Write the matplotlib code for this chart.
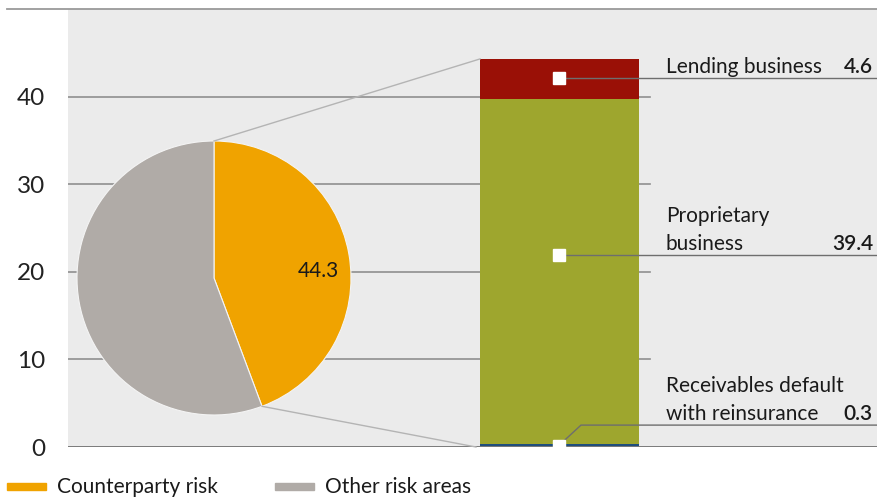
import matplotlib
matplotlib.use("Agg")
import matplotlib.pyplot as plt
from matplotlib.lines import Line2D
from matplotlib.patches import Rectangle
import numpy as np

# ---- data ----
pie_labels = ["Counterparty risk", "Other risk areas"]
pie_values = [44.3, 55.7]
pie_colors = ["#f0a300", "#b0aba7"]

bar_labels = ["Receivables default\nwith reinsurance", "Proprietary\nbusiness", "Lending business"]
bar_values = [0.3, 39.4, 4.6]
bar_value_text = ["0.3", "39.4", "4.6"]
bar_colors = ["#1f4e7c", "#9ea62e", "#9a1006"]

y_ticks = [0, 10, 20, 30, 40]
y_ticklabels = ["0", "10", "20", "30", "40"]

plt.rcParams['font.family'] = ['Lato', 'DejaVu Sans']

W, H = 878, 497
fig = plt.figure(figsize=(W / 100, H / 100), dpi=100)

def fx(px):
    return px / W

def fy(py):
    return 1 - py / H

# main axes: pixel x 68..878, y 9..447
ax_l, ax_r, ax_t, ax_b = 68, 878, 9, 447
ax = fig.add_axes([fx(ax_l), fy(ax_b), fx(ax_r - ax_l), (ax_b - ax_t) / H])
ax.set_facecolor("#ebebeb")
ax.set_xlim(ax_l, ax_r)
ax.set_ylim(0, 50)
for s in ax.spines.values():
    s.set_visible(False)
ax.set_xticks([])
ax.set_yticks(y_ticks)
ax.set_yticklabels(y_ticklabels, fontsize=17.5, color="#222222")
ax.tick_params(axis="y", length=0, pad=16.5)

# gridlines
grid_end = 650
for t in y_ticks[1:]:
    ax.plot([ax_l, grid_end], [t, t], color="#8f8f8f", lw=1.2, zorder=1)
ax.plot([ax_l, ax_r], [0, 0], color="#7a7a7a", lw=1.4, zorder=4)

# stacked bar
bar_x = 559.5
bar_w = 159
bottoms = np.concatenate([[0], np.cumsum(bar_values)[:-1]])
for v, b, c in zip(bar_values, bottoms, bar_colors):
    ax.bar(bar_x, v, bottom=b, width=bar_w, color=c, edgecolor="none", zorder=3)
total = sum(bar_values)

# annotation markers and leader lines
marker_y = [0.15, 21.9, 42.1]
px_per_unit = (ax_b - ax_t) / 50.0
for i, (my, lab, vt) in enumerate(zip(marker_y, bar_labels, bar_value_text)):
    if i == 0:
        ly = 2.5
        ax.plot([bar_x + 2, 581, ax_r], [my + 0.3, ly, ly], color="#6e6e6e", lw=1.0, zorder=5,
                solid_joinstyle="miter")
    else:
        ly = my
        ax.plot([bar_x, ax_r], [ly, ly], color="#6e6e6e", lw=1.0, zorder=5)
    ax.plot([bar_x], [my], marker="s", ms=9, color="white", mec="white", zorder=6, clip_on=False)
    ty = ly + 1.5 / px_per_unit
    ax.text(666, ty, lab, fontsize=15, color="#1a1a1a", ha="left", va="bottom",
            linespacing=1.45, zorder=6)
    ax.text(873, ty, vt, fontsize=15, color="#1a1a1a", ha="right", va="bottom",
            fontweight="semibold", zorder=6)

# pie axes
pcx, pcy, pr = 214, 278, 137
pax = fig.add_axes([fx(pcx - pr), fy(pcy + pr), 2 * pr / W, 2 * pr / H])
pax.pie(pie_values, colors=pie_colors, startangle=90, counterclock=False, radius=1,
        wedgeprops=dict(edgecolor="#f4f4f4", linewidth=0.8))
pax.set_xlim(-1, 1)
pax.set_ylim(-1, 1)
pax.axis("off")
pax.text(0.76, 0.05, f"{pie_values[0]:.1f}", fontsize=15, ha="center", va="center", color="#1a1a1a")

# connecting lines from pie to bar
ang_end = np.deg2rad(90 - 360 * pie_values[0] / sum(pie_values))
p_top = (pcx, pcy - pr)
p_end = (pcx + pr * np.cos(ang_end), pcy - pr * np.sin(ang_end))
bar_left = bar_x - bar_w / 2
bar_top_px = ax_b - total * px_per_unit
fig.add_artist(Line2D([fx(p_top[0]), fx(bar_left)], [fy(p_top[1]), fy(bar_top_px)],
                      color="#b4b4b4", lw=1.0, transform=fig.transFigure))
fig.add_artist(Line2D([fx(p_end[0]), fx(bar_left - 4)], [fy(p_end[1]), fy(ax_b)],
                      color="#b4b4b4", lw=1.0, transform=fig.transFigure))

# top rule
fig.add_artist(Line2D([fx(7), fx(878)], [fy(8.5), fy(8.5)], color="#9a9a9a", lw=1.3,
                      transform=fig.transFigure))

# legend
leg_items = [(7, 57), (275, 325)]
for (px0, tx), lab, c in zip(leg_items, pie_labels, pie_colors):
    fig.add_artist(Rectangle((fx(px0), fy(490)), fx(39), 7 / H, color=c,
                             transform=fig.transFigure))
    fig.text(fx(tx), fy(493), lab, fontsize=15, color="#1a1a1a", ha="left", va="baseline")

fig.savefig("out.png", dpi=100)
